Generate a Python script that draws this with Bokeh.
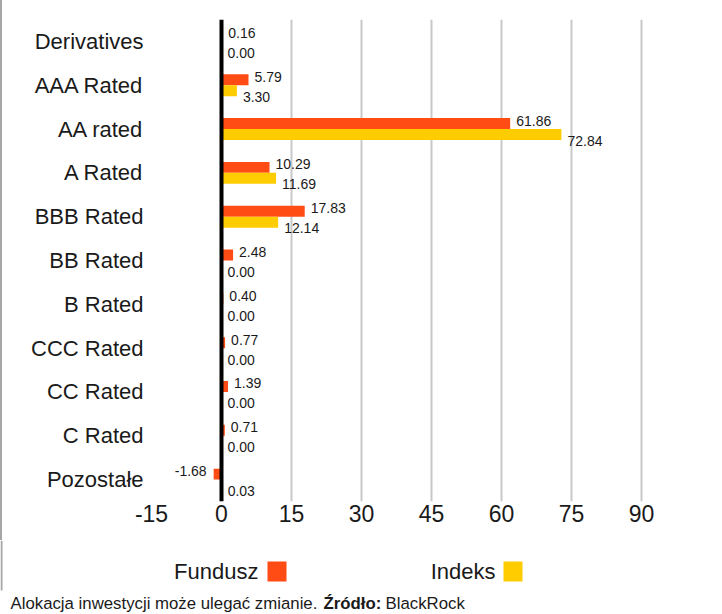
from bokeh.plotting import figure
from bokeh.layouts import column
from bokeh.models import ColumnDataSource, FactorRange, Range1d, Span, Label, BoxAnnotation, FixedTicker
from bokeh.transform import dodge
from bokeh.core.properties import value
from bokeh.embed import file_html
from bokeh.resources import INLINE

categories = ["Derivatives", "AAA Rated", "AA rated", "A Rated", "BBB Rated", "BB Rated",
              "B Rated", "CCC Rated", "CC Rated", "C Rated", "Pozostałe"]
fundusz = [0.16, 5.79, 61.86, 10.29, 17.83, 2.48, 0.40, 0.77, 1.39, 0.71, -1.68]
indeks = [0.00, 3.30, 72.84, 11.69, 12.14, 0.00, 0.00, 0.00, 0.00, 0.00, 0.03]
x_ticks = [-15, 0, 15, 30, 45, 60, 75, 90]
series_names = ["Fundusz", "Indeks"]
footer_parts = ["Alokacja inwestycji może ulegać zmianie.", "Źródło:", "BlackRock"]

ORANGE = "#ff4b14"
YELLOW = "#ffcc00"
FONT = "Liberation Sans"
TXT = "#1a1a1a"
W = 714
BORDER = 2  # css left border of the chart

# horizontal layout: axis value x_ticks[0] sits at 151 px, x_ticks[-1] at 641 px (page)
PX_LEFT, PX_RIGHT = 151 - BORDER, 641 - BORDER
scale = (PX_RIGHT - PX_LEFT) / (x_ticks[-1] - x_ticks[0])
x_start = x_ticks[0] - PX_LEFT / scale
x_end = x_start + W / scale

def lab_cols(vals):
    return dict(
        txt=[f"{v:.2f}" for v in vals],
        align=["left" if v >= 0 else "right" for v in vals],
        xo=[6 if v >= 0 else -7 for v in vals],
    )

src_f = ColumnDataSource(dict(cat=categories, v=fundusz, **lab_cols(fundusz)))
src_i = ColumnDataSource(dict(cat=categories, v=indeks, **lab_cols(indeks)))
src_c = ColumnDataSource(dict(cat=categories, x0=[x_ticks[0]] * len(categories)))

p = figure(width=W, height=540, output_backend="svg", toolbar_location=None,
           y_range=FactorRange(factors=categories[::-1]),
           x_range=Range1d(x_start, x_end),
           min_border_left=0, min_border_right=0, min_border_top=19, min_border_bottom=39)
p.outline_line_color = None
p.background_fill_color = "white"
p.border_fill_color = "white"
p.styles = {"border-left": f"{BORDER}px solid #a6a6a6"}

p.hbar(y=dodge("cat", 0.125, range=p.y_range), left=0, right="v", height=0.25,
       source=src_f, fill_color=ORANGE, line_color=None)
p.hbar(y=dodge("cat", -0.125, range=p.y_range), left=0, right="v", height=0.25,
       source=src_i, fill_color=YELLOW, line_color=None)

p.text(x="v", y=dodge("cat", 0.125, range=p.y_range), text="txt", source=src_f,
       text_align="align", x_offset="xo", y_offset=-3, text_baseline="middle",
       text_font=value(FONT), text_font_size="14px", text_color=TXT)
p.text(x="v", y=dodge("cat", -0.125, range=p.y_range), text="txt", source=src_i,
       text_align="align", x_offset="xo", y_offset=6, text_baseline="middle",
       text_font=value(FONT), text_font_size="14px", text_color=TXT)

# category labels (left of the axis start)
p.text(x="x0", y="cat", text="cat", source=src_c, text_align="right", x_offset=-8,
       text_baseline="middle", text_font=value(FONT), text_font_size="22px", text_color=TXT)

p.add_layout(Span(location=0, dimension="height", line_color="black", line_width=4))

p.xaxis.ticker = FixedTicker(ticks=x_ticks)
p.xaxis.major_label_overrides = {t: str(t) for t in x_ticks}
p.xaxis.axis_line_color = None
p.xaxis.major_tick_line_color = None
p.xaxis.minor_tick_line_color = None
p.xaxis.major_label_text_font = FONT
p.xaxis.major_label_text_font_size = "23px"
p.xaxis.major_label_text_color = TXT
p.xaxis.major_label_standoff = -3

p.yaxis.visible = False

p.ygrid.grid_line_color = None
p.xgrid.ticker = FixedTicker(ticks=[t for t in x_ticks if t > 0])
p.xgrid.grid_line_color = "#c8c8c8"
p.xgrid.grid_line_width = 2

# legend + footer strip (coordinates in pixels of this strip)
H2 = 74
q = figure(width=W, height=H2, output_backend="svg", toolbar_location=None,
           x_range=Range1d(0, W), y_range=Range1d(0, H2),
           min_border=0, min_border_left=0, min_border_right=0,
           min_border_top=0, min_border_bottom=0)
q.axis.visible = False
q.grid.visible = False
q.outline_line_color = None
q.background_fill_color = "white"
q.border_fill_color = "white"

q.add_layout(Label(x=258, y=43, text=series_names[0], text_align="right", text_baseline="middle",
                   text_font=FONT, text_font_size="22px", text_color=TXT))
q.add_layout(BoxAnnotation(left=267, right=286, top=53, bottom=33,
                           fill_color=ORANGE, fill_alpha=1, line_color=None))
q.add_layout(Label(x=495, y=43, text=series_names[1], text_align="right", text_baseline="middle",
                   text_font=FONT, text_font_size="22px", text_color=TXT))
q.add_layout(BoxAnnotation(left=503, right=522, top=53, bottom=33,
                           fill_color=YELLOW, fill_alpha=1, line_color=None))

q.add_layout(Label(x=10, y=11, text=footer_parts[0], text_baseline="middle",
                   text_font=FONT, text_font_size="16.8px", text_color=TXT))
q.add_layout(Label(x=323, y=11, text=footer_parts[1], text_baseline="middle",
                   text_font=FONT, text_font_size="16.8px", text_font_style="bold", text_color=TXT))
q.add_layout(Label(x=385, y=11, text=footer_parts[2], text_baseline="middle",
                   text_font=FONT, text_font_size="16.8px", text_color=TXT))

# left page border continued in the legend strip
q.add_layout(BoxAnnotation(left=0, right=BORDER, top=H2, bottom=24,
                           fill_color="#a6a6a6", fill_alpha=1, line_color=None))

layout = column(p, q, spacing=0)
open("out.html", "w").write(file_html(layout, INLINE))
